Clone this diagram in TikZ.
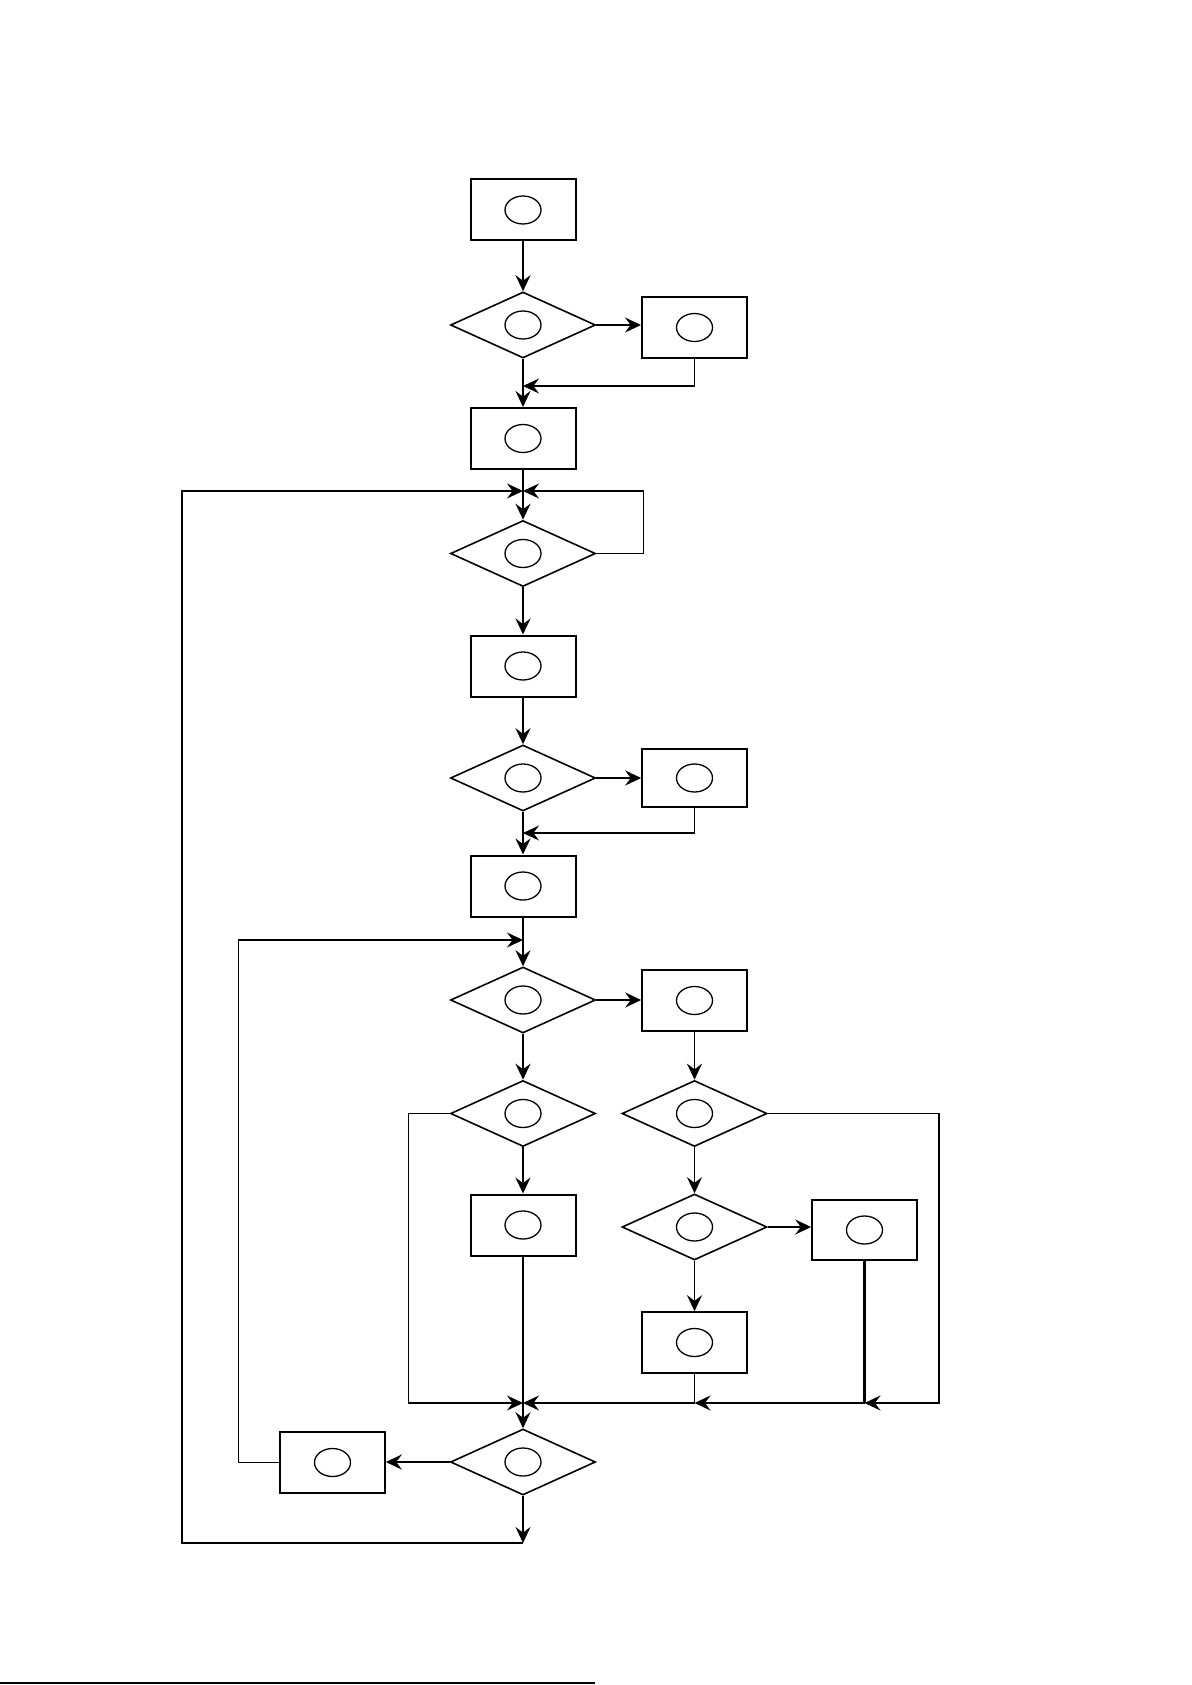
\documentclass[tikz,border=0pt]{standalone}
\usetikzlibrary{shapes.geometric,arrows.meta}
\begin{document}
\begin{tikzpicture}[x=0.5pt,y=-0.5pt,
  oval/.style={draw, ellipse, line width=0.65pt, minimum width=18pt, minimum height=14pt, inner sep=0pt},
  box/.style={draw, rectangle, line width=1pt, minimum width=52.5pt, minimum height=30.5pt, inner sep=0pt, label={[oval]center:}},
  sidebox/.style={box, line width=0.8pt},
  dec/.style={draw, diamond, line width=0.8pt, minimum width=72.5pt, minimum height=33pt, inner sep=0pt, label={[oval]center:}},
  thk/.style={line width=1.15pt},
  thn/.style={line width=0.7pt},
  >={Stealth[length=8pt,width=7.5pt,inset=2.8pt]}
]
\useasboundingbox (0,0) rectangle (1191,1685);
% main column
\node[box] (b1) at (523,210) {};
\node[dec] (d1) at (523,325) {};
\node[box] (b2) at (694.5,327.5) {};
\node[box] (b3) at (523,438.5) {};
\node[dec] (d2) at (523,553.5) {};
\node[box] (b4) at (523,666) {};
\node[dec] (d3) at (523,778) {};
\node[sidebox, minimum height=29pt] (b5) at (694.5,778) {};
\node[box] (b6) at (523,886) {};
\node[dec] (d4) at (523,1000) {};
\node[sidebox] (b7) at (694.5,1000.5) {};
\node[dec] (d5) at (523,1113.5) {};
\node[dec] (d6) at (694.5,1113.5) {};
\node[box] (b8) at (523,1225) {};
\node[dec] (d7) at (694.5,1227) {};
\node[sidebox, minimum height=30pt] (b9) at (864.5,1230) {};
\node[sidebox] (b10) at (694.5,1342.5) {};
\node[dec] (d8) at (523,1462) {};
\node[sidebox] (b11) at (332.5,1462.5) {};
% junction points
\coordinate (j1) at (523,386);
\coordinate (j2) at (523,491);
\coordinate (j3) at (523,833);
\coordinate (j4) at (523,940);
\coordinate (m0) at (523,1403);
\coordinate (m1) at (694.5,1403);
\coordinate (m2) at (864.5,1403);
\coordinate (e1) at (523,1543);
\coordinate (fn1) at (0,1683);
\coordinate (fn2) at (595,1683);
% connectors
\draw[thk,->] (b1) -- (d1);
\draw[thn,->] (d1.east) -- (d1.east -| b2.west);
\draw[thn,->] (b2.south) |- (j1);
\draw[thk,->] (d1) -- (b3);
\draw[thk,->] (b3) -- (d2);
\draw[thn,->] (d2.east) -- ++(47,0) |- (j2);
\draw[thk,->] (d2) -- (b4);
\draw[thk,->] (b4) -- (d3);
\draw[thk,->] (d3.east) -- (b5.west);
\draw[thn,->] (b5.south) |- (j3);
\draw[thk,->] (d3) -- (b6);
\draw[thk,->] (b6) -- (d4);
\draw[thn,->] (d4.east) -- (d4.east -| b7.west);
\draw[thk,->] (d4) -- (d5);
\draw[thn,->] (b7) -- (d6);
\draw[thn,->] (d5.west) -- ++(-41,0) |- (m0);
\draw[thk,->] (d5) -- (b8);
\draw[thk] (b8.south) -- (m0);
\draw[thn,->] (m0) -- (d8);
\draw[thn,->] (d6) -- (d7);
\draw[thn,->] (d6.east) -- ++(171,0) |- (m2);
\draw[thn,->] (d7.east) -- (d7.east -| b9.west);
\draw[thn,->] (d7) -- (b10);
\draw[thk] (b9.south) -- (m2);
\draw[thn,->] (m2) -- (m1);
\draw[thn] (b10.south) -- (m1);
\draw[thn,->] (m1) -- (m0);
\draw[thk,->] (d8.west) -- (d8.west -| b11.east);
\draw[thn,->] (b11.west) -- ++(-41,0) |- (j4);
\draw[thn,->] (d8) -- (e1);
\draw[thk,->] (e1) -- ++(-341,0) |- (j2);
\draw[line width=0.7pt] (fn1) -- (fn2);
\end{tikzpicture}
\end{document}
